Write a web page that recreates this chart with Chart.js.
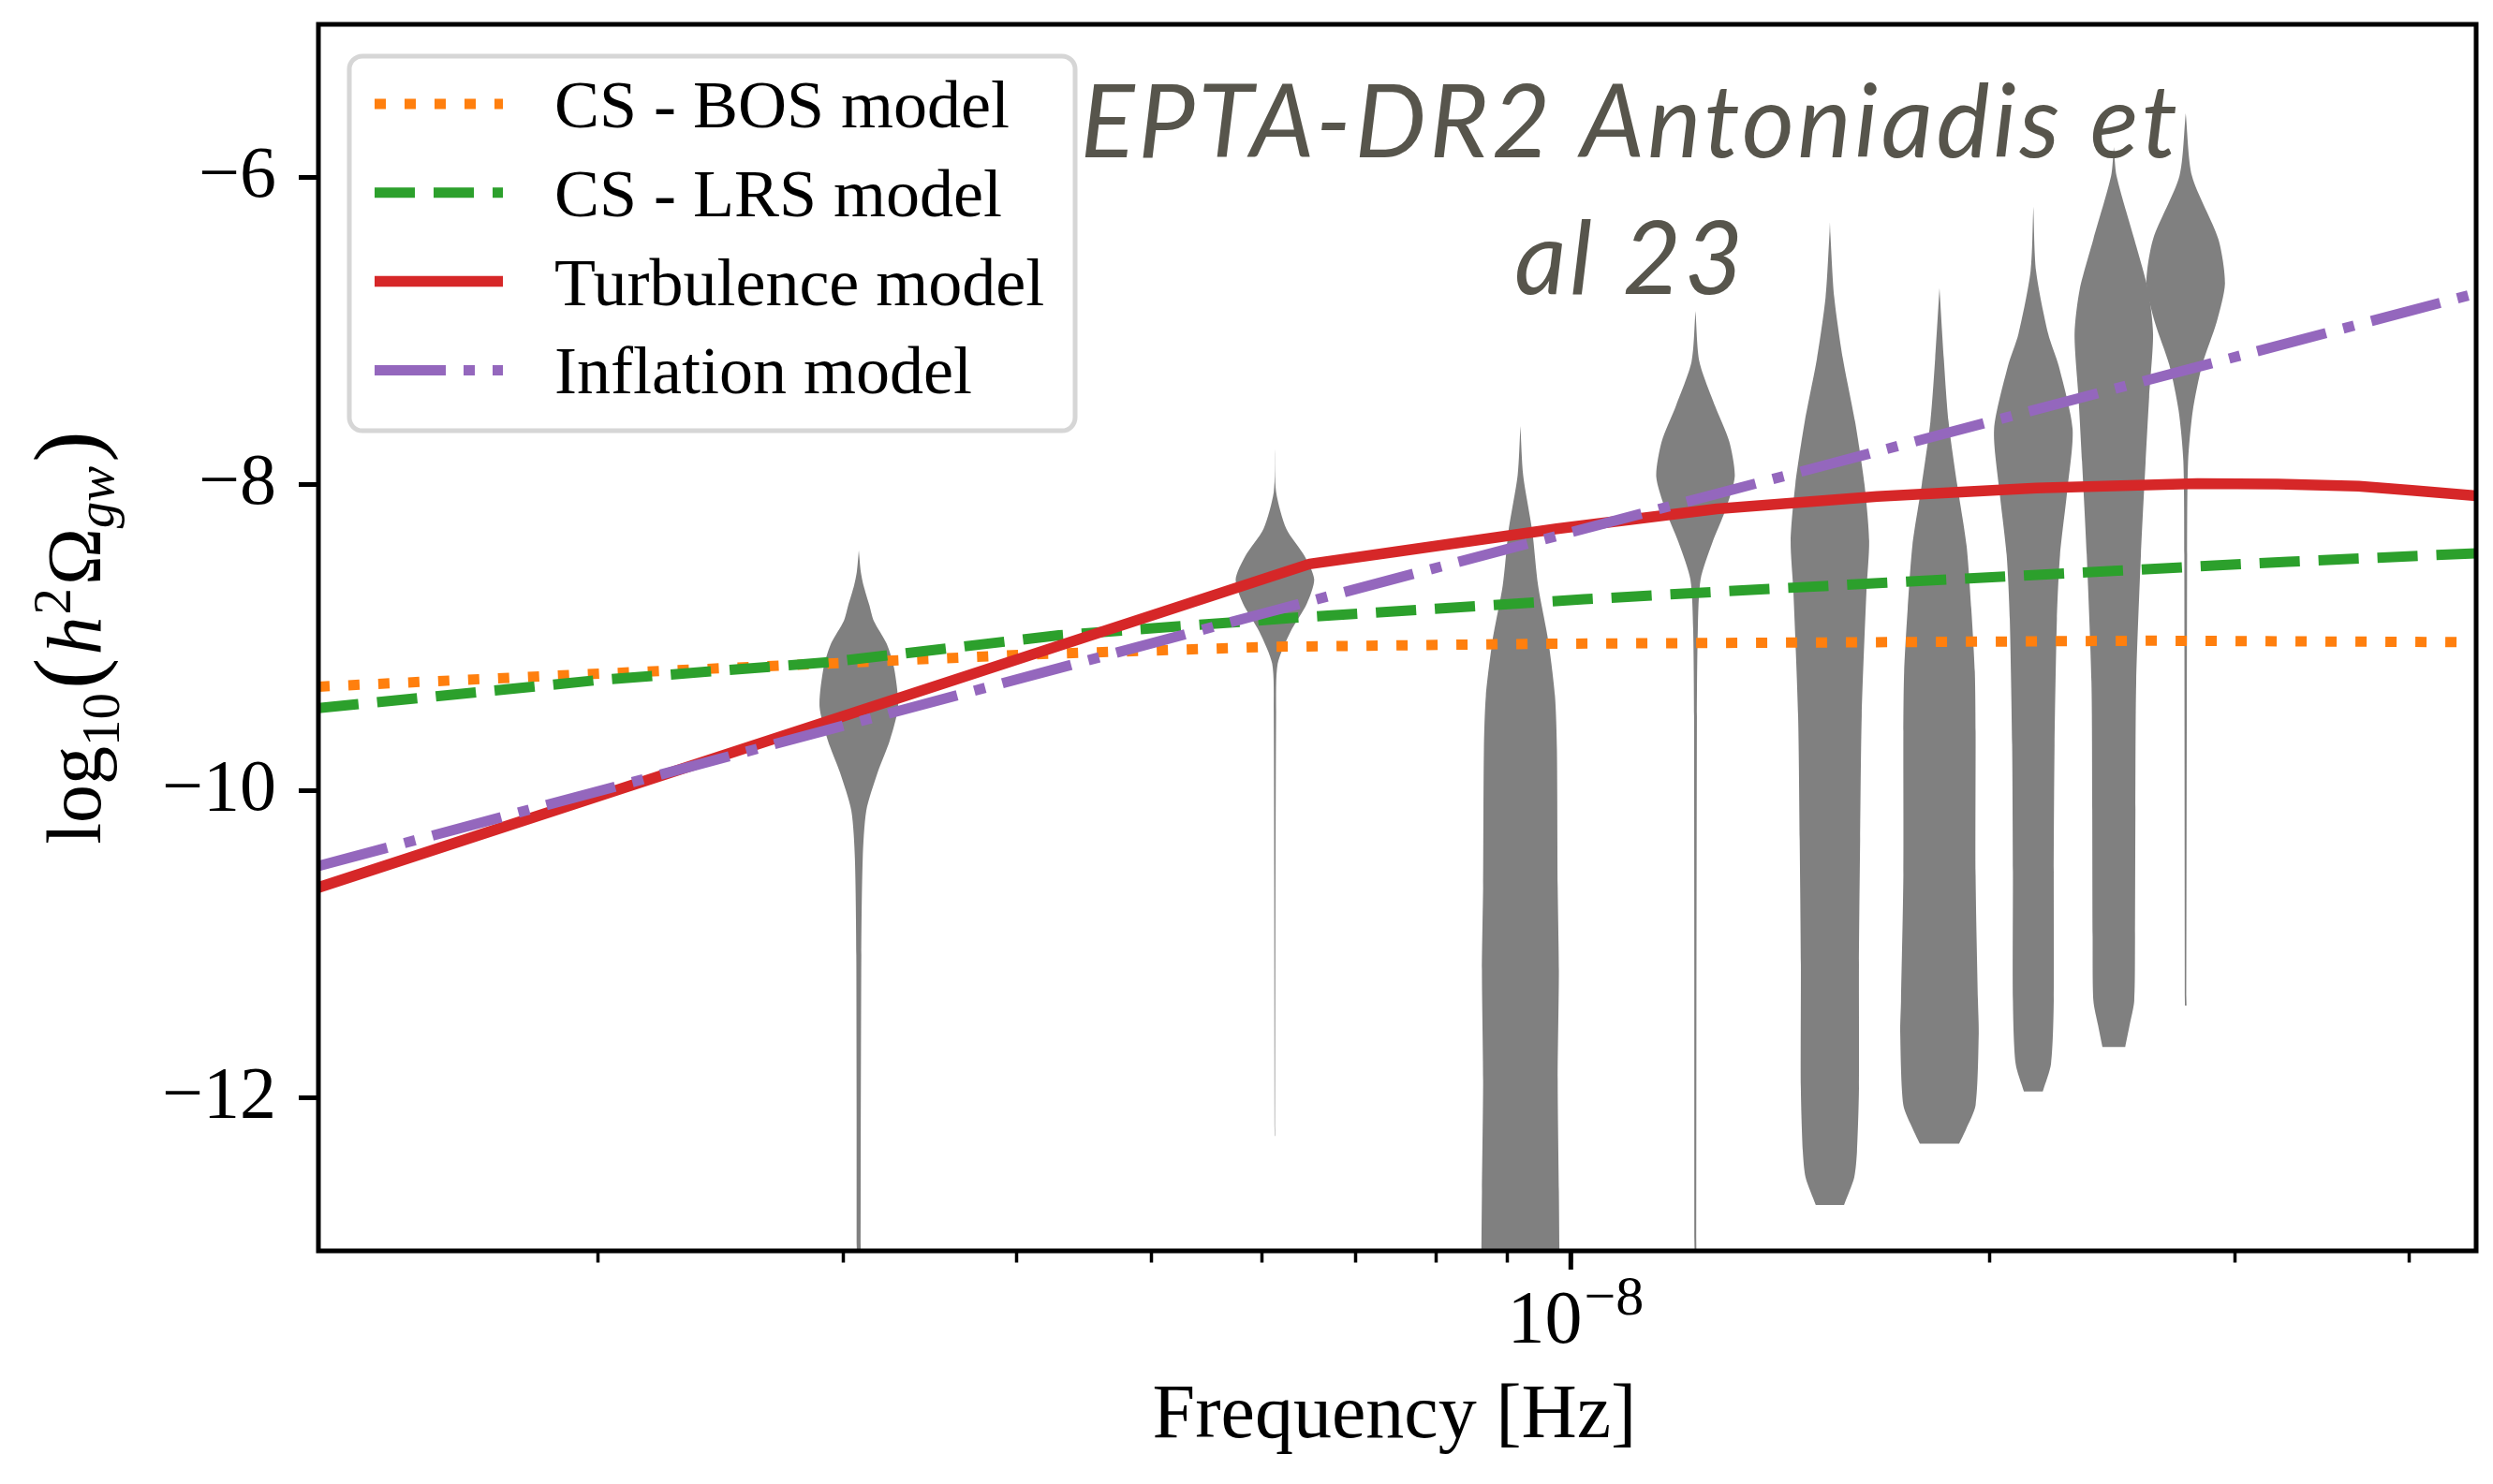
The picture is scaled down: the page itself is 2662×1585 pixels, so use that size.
<!DOCTYPE html>
<html>
<head>
<meta charset="utf-8">
<script src="https://cdn.jsdelivr.net/npm/chart.js@4.4.0/dist/chart.umd.min.js"></script>
<style>
  html, body { margin: 0; padding: 0; background: #fff; }
  #wrap { width: 2662px; height: 1585px; }
</style>
</head>
<body>
<div id="wrap"><canvas id="grafico" width="2662" height="1585"></canvas></div>
<script>
// axis limits and ticks
const xMin = 1.26e-9, xMax = 4.47e-8;
const yMin = -13, yMax = -5;
const yTickValues = [-12, -10, -8, -6];
const xTickValues = [2e-9, 3e-9, 4e-9, 5e-9, 6e-9, 7e-9, 8e-9, 9e-9, 1e-8, 2e-8, 3e-8, 4e-8];
const xLabelValues = [1e-8];

// model curves: frequency (Hz) and log10(h^2 Omega_gw)
const bosFreq = [1.26e-9, 1.843e-9, 2.748e-9, 4.083e-9, 6.081e-9, 9.572e-9, 1.648e-8, 2.618e-8, 4.47e-8];
const bosVals = [-9.32, -9.25, -9.18, -9.11, -9.06, -9.04, -9.03, -9.02, -9.03];

const lrsFreq = [1.26e-9, 1.986e-9, 2.935e-9, 4.289e-9, 6.337e-9, 1.022e-8, 1.368e-8, 1.833e-8, 2.453e-8, 3.275e-8, 4.47e-8];
const lrsVals = [-9.46, -9.28, -9.16, -8.985, -8.87, -8.75, -8.685, -8.625, -8.565, -8.505, -8.45];

const turbFreq = [1.26e-9, 6.49e-9, 7.49e-9, 9.77e-9, 1.273e-8, 1.66e-8, 2.16e-8, 2.82e-8, 3.22e-8, 3.68e-8, 4.02e-8, 4.47e-8];
const turbVals = [-10.63, -8.52, -8.44, -8.29, -8.16, -8.08, -8.025, -7.995, -7.998, -8.012, -8.04, -8.075];

const inflFreq = [1.26e-9, 6.074e-9, 4.47e-8];
const inflVals = [-10.49, -8.832, -6.755];

// violins: centre frequency, levels (top to bottom) and relative width at each level
const violinFreqs = [3.08e-9, 6.13e-9, 9.20e-9, 1.229e-8, 1.535e-8, 1.84e-8, 2.149e-8, 2.455e-8, 2.765e-8];
const violinLevels = [
  [-8.43, -8.57, -8.66, -8.79, -8.89, -9.04, -9.20, -9.45, -9.67, -9.88, -10.13, -10.44, -11.07, -13.2],
  [-7.77, -8.05, -8.29, -8.47, -8.62, -8.78, -8.96, -9.17, -9.48, -12.25],
  [-7.62, -7.94, -8.30, -8.66, -9.02, -9.38, -9.73, -10.63, -11.17, -11.89, -12.61, -13.2],
  [-6.87, -7.20, -7.49, -7.72, -7.95, -8.17, -8.38, -8.62, -8.94, -9.51, -13.2],
  [-6.29, -6.37, -6.78, -7.18, -7.59, -8.00, -8.37, -8.70, -9.51, -10.32, -11.13, -11.94, -12.35, -12.52, -12.70],
  [-6.72, -7.18, -7.59, -8.00, -8.40, -8.81, -9.22, -9.61, -10.55, -11.37, -11.58, -12.05, -12.21, -12.30],
  [-6.19, -6.61, -7.02, -7.23, -7.64, -8.05, -8.46, -8.88, -9.70, -10.53, -11.37, -11.78, -11.96],
  [-5.80, -5.99, -6.40, -6.73, -7.02, -7.43, -7.85, -8.46, -9.29, -10.12, -10.95, -11.37, -11.53, -11.67],
  [-5.58, -5.99, -6.40, -6.69, -6.94, -7.22, -7.52, -7.85, -8.46, -11.40]
];
const violinDensity = [
  [0, 0.05, 0.12, 0.27, 0.38, 0.71, 0.90, 1.0, 0.79, 0.48, 0.19, 0.10, 0.064, 0.048],
  [0, 0.03, 0.29, 0.76, 1.0, 0.81, 0.40, 0.07, 0.03, 0.005],
  [0, 0.07, 0.30, 0.45, 0.71, 0.88, 0.93, 0.95, 0.98, 0.95, 0.98, 1.0],
  [0, 0.10, 0.50, 0.86, 1.0, 0.76, 0.43, 0.13, 0.06, 0.036, 0.022],
  [0, 0.012, 0.11, 0.33, 0.64, 0.88, 1.0, 0.93, 0.81, 0.77, 0.74, 0.74, 0.69, 0.62, 0.36],
  [0, 0.11, 0.23, 0.45, 0.69, 0.81, 0.90, 0.92, 0.92, 0.98, 1.0, 0.92, 0.67, 0.50],
  [0, 0.07, 0.38, 0.65, 1.0, 0.86, 0.68, 0.60, 0.54, 0.52, 0.52, 0.45, 0.24],
  [0, 0.07, 0.52, 0.87, 1.0, 0.90, 0.81, 0.69, 0.57, 0.55, 0.54, 0.52, 0.40, 0.29],
  [0, 0.16, 0.83, 1.0, 0.79, 0.42, 0.18, 0.06, 0.036, 0.02]
];

const legendOrder = ['CS - BOS model', 'CS - LRS model', 'Turbulence model', 'Inflation model'];
const titleLines = ['EPTA-DR2 Antoniadis et', 'al 23'];

// half width of a full violin, in decades of frequency
const violinHalfWidth = 0.0282;
const serif = "'Liberation Serif', 'Times New Roman', serif";

function pares(freqs, vals) {
  return freqs.map((f, i) => ({x: f, y: vals[i]}));
}

function violinPoints(k) {
  const f = violinFreqs[k];
  const lv = violinLevels[k];
  const dn = violinDensity[k];
  const pts = [];
  for (let j = lv.length - 1; j >= 0; j--) {
    pts.push({x: f * Math.pow(10, dn[j] * violinHalfWidth), y: lv[j]});
  }
  for (let j = 0; j < lv.length; j++) {
    pts.push({x: f * Math.pow(10, -dn[j] * violinHalfWidth), y: lv[j]});
  }
  return pts;
}

function linea(label, freqs, vals, color, dash, width) {
  return {
    label: label,
    data: pares(freqs, vals),
    borderColor: color,
    backgroundColor: color,
    borderWidth: width,
    borderDash: dash,
    borderCapStyle: 'butt',
    borderJoinStyle: 'round',
    fill: false,
    pointRadius: 0,
    tension: 0
  };
}

// later datasets are drawn underneath, so the violins go last
const datasets = [
  linea('Inflation model', inflFreq, inflVals, '#9467bd', [76, 19, 12, 19], 11),
  linea('Turbulence model', turbFreq, turbVals, '#d62728', [], 11.5),
  linea('CS - LRS model', lrsFreq, lrsVals, '#2ca02c', [43, 20], 11),
  linea('CS - BOS model', bosFreq, bosVals, '#ff7f0e', [12, 20], 11)
];
for (let k = 0; k < violinFreqs.length; k++) {
  datasets.push({
    label: '',
    data: violinPoints(k),
    borderColor: 'rgba(128,128,128,0)',
    borderWidth: 1,
    backgroundColor: '#808080',
    fill: 'shape',
    pointRadius: 0,
    tension: 0.25
  });
}

function textoRico(ctx, piezas, cx, cy) {
  let total = 0;
  piezas.forEach(p => {
    ctx.font = p.font;
    p.w = ctx.measureText(p.t).width;
    total += p.w + (p.gap || 0);
  });
  let x = cx - total / 2;
  piezas.forEach(p => {
    ctx.font = p.font;
    ctx.fillText(p.t, x, cy + p.dy);
    x += p.w + (p.gap || 0);
  });
}

const adornos = {
  id: 'adornos',
  afterDraw(chart) {
    const {ctx, chartArea: a, scales: {x, y}} = chart;
    ctx.save();
    ctx.setLineDash([]);

    // axes frame
    ctx.strokeStyle = '#000';
    ctx.lineWidth = 5;
    ctx.strokeRect(a.left, a.top, a.right - a.left, a.bottom - a.top);

    // major x tick and its label
    ctx.fillStyle = '#000';
    ctx.textAlign = 'left';
    ctx.textBaseline = 'alphabetic';
    xLabelValues.forEach(v => {
      const px = x.getPixelForValue(v);
      ctx.lineWidth = 5;
      ctx.beginPath();
      ctx.moveTo(px, a.bottom);
      ctx.lineTo(px, a.bottom + 20);
      ctx.stroke();
      const expo = Math.round(Math.log10(v));
      const base = '10';
      const sup = (expo < 0 ? '\u2212' : '') + Math.abs(expo);
      ctx.font = '80px ' + serif;
      const w1 = ctx.measureText(base).width;
      ctx.font = '60px ' + serif;
      const w2 = ctx.measureText(sup).width;
      const sx = px - (w1 + w2) / 2 + 4;
      ctx.font = '80px ' + serif;
      ctx.fillText(base, sx, a.bottom + 98);
      ctx.font = '60px ' + serif;
      ctx.fillText(sup, sx + w1 + 2, a.bottom + 68);
    });

    // x axis title
    ctx.textAlign = 'center';
    ctx.font = '82px ' + serif;
    ctx.fillText('Frequency [Hz]', (a.left + a.right) / 2 - 3, a.bottom + 199);

    // y axis title
    ctx.save();
    ctx.translate(a.left - 233, (a.top + a.bottom) / 2);
    ctx.rotate(-Math.PI / 2);
    ctx.textAlign = 'left';
    textoRico(ctx, [
      {t: 'log', font: '82px ' + serif, dy: 0},
      {t: '10', font: '57px ' + serif, dy: 20, gap: 4},
      {t: '(', font: '100px ' + serif, dy: -2, gap: 3},
      {t: 'h', font: 'italic 82px ' + serif, dy: 0, gap: 2},
      {t: '2', font: '57px ' + serif, dy: -32, gap: 3},
      {t: '\u03A9', font: '82px ' + serif, dy: 0},
      {t: 'gw', font: 'italic 57px ' + serif, dy: 14, gap: 4},
      {t: ')', font: '100px ' + serif, dy: -2}
    ], 0, 0);
    ctx.restore();

    // legend
    const lx = a.left + 33, ly = a.top + 34, lw = 775, lh = 400;
    ctx.beginPath();
    ctx.roundRect(lx, ly, lw, lh, 14);
    ctx.fillStyle = 'rgba(255,255,255,0.8)';
    ctx.fill();
    ctx.lineWidth = 5;
    ctx.strokeStyle = '#d6d6d6';
    ctx.stroke();
    legendOrder.forEach((nombre, i) => {
      const ds = chart.data.datasets.find(d => d.label === nombre);
      const rowY = ly + 51 + i * 94.8;
      ctx.save();
      ctx.strokeStyle = ds.borderColor;
      ctx.lineWidth = ds.borderWidth;
      ctx.lineCap = 'butt';
      ctx.setLineDash(ds.borderDash);
      ctx.beginPath();
      ctx.moveTo(lx + 27, rowY);
      ctx.lineTo(lx + 164, rowY);
      ctx.stroke();
      ctx.restore();
      ctx.fillStyle = '#000';
      ctx.textAlign = 'left';
      ctx.font = '72px ' + serif;
      ctx.fillText(nombre, lx + 219, rowY + 25);
    });

    // annotation
    ctx.fillStyle = '#57554c';
    ctx.textAlign = 'center';
    ctx.font = "italic 108px Lato, 'Open Sans', sans-serif";
    ctx.letterSpacing = '3.5px';
    titleLines.forEach((t, i) => {
      ctx.fillText(t, 1741, a.top + 142 + i * 146);
    });

    ctx.restore();
  }
};

const grafico = new Chart(document.getElementById('grafico').getContext('2d'), {
  type: 'line',
  data: {datasets: datasets},
  options: {
    responsive: false,
    animation: false,
    events: [],
    layout: {padding: {top: 26, right: 18, left: 0, bottom: 0}},
    plugins: {
      legend: {display: false},
      tooltip: {enabled: false},
      filler: {propagate: false}
    },
    scales: {
      x: {
        type: 'logarithmic',
        min: xMin,
        max: xMax,
        afterBuildTicks: (s) => { s.ticks = xTickValues.map(v => ({value: v})); },
        afterFit: (s) => { s.height = 249; s.paddingLeft = 0; s.paddingRight = 0; },
        ticks: {display: false},
        border: {display: false},
        grid: {display: true, drawOnChartArea: false, drawTicks: true, tickLength: 12.5, tickWidth: 3.5, tickColor: '#000'}
      },
      y: {
        type: 'linear',
        min: yMin,
        max: yMax,
        afterBuildTicks: (s) => { s.ticks = yTickValues.map(v => ({value: v})); },
        afterFit: (s) => { s.width = 340; s.paddingTop = 0; s.paddingBottom = 0; },
        ticks: {
          font: {family: "'Liberation Serif'", size: 78},
          color: '#000',
          padding: 24,
          callback: (v) => (v < 0 ? '\u2212' : '') + Math.abs(v)
        },
        border: {display: false},
        grid: {display: true, drawOnChartArea: false, drawTicks: true, tickLength: 21, tickWidth: 5, tickColor: '#000'}
      }
    }
  },
  plugins: [adornos]
});
</script>
</body>
</html>
